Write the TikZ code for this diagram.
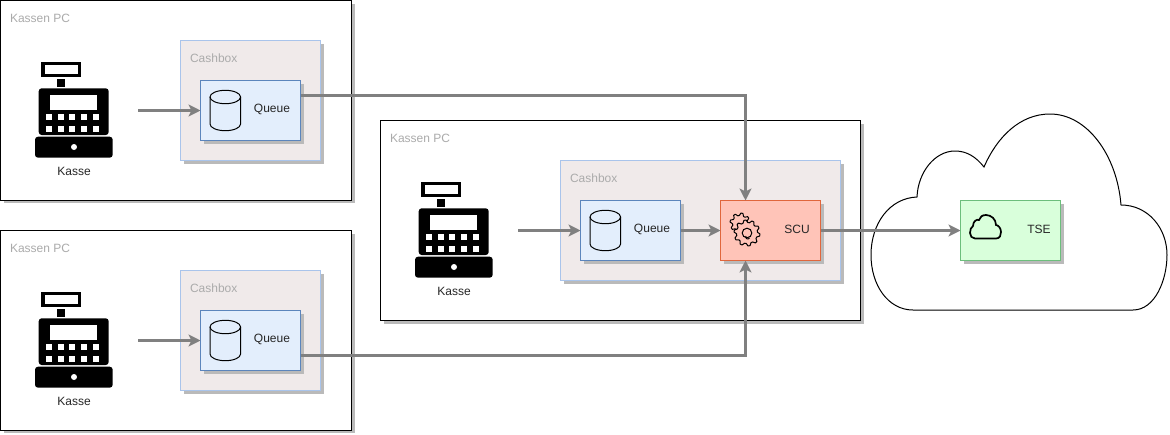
\documentclass[tikz,border=0pt]{standalone}
\usepackage{fontspec}
\setmainfont{Liberation Sans}
\usetikzlibrary{arrows.meta,shadows,calc}
\definecolor{cashfill}{HTML}{F0EAEA}
\definecolor{cashline}{HTML}{A9C4EB}
\definecolor{qfill}{HTML}{E3EEFC}
\definecolor{qline}{HTML}{5B85BC}
\definecolor{scufill}{HTML}{FFC4B8}
\definecolor{sculine}{HTML}{E0663C}
\definecolor{tsefill}{HTML}{D9FFDB}
\definecolor{tseline}{HTML}{6CBE7C}
\definecolor{flowgrey}{HTML}{808080}
\definecolor{softtext}{HTML}{ABABAB}
\tikzset{
  x=1pt,y=-1pt,
  every node/.style={font=\fontsize{12}{14}\selectfont,inner sep=0pt,outer sep=0pt},
  shadowed/.style={drop shadow={shadow xshift=3pt,shadow yshift=-3pt,fill=black!27,opacity=1}},
  box/.style={shadowed,draw,line width=1pt,anchor=north west},
  pcbox/.style={box,draw=black,fill=white,minimum height=199.5pt},
  cashbox/.style={box,draw=cashline,fill=cashfill,minimum height=120pt},
  minibox/.style={box,minimum width=100pt,minimum height=60pt},
  queuebox/.style={minibox,draw=qline,fill=qfill},
  softlabel/.style={text=softtext,anchor=west},
  textlabel/.style={text=black!85},
  flow/.style={draw=flowgrey,line width=2.3pt,-{Stealth[length=12pt,width=12pt,inset=3pt]}},
  iconline/.style={draw=black,line width=1pt},
}
\newcommand{\register}[3]{%
  \begin{scope}[shift={(#2,#3)}]
    \fill[black] (41,62) rectangle (81,77);
    \fill[white] (44.5,65.3) rectangle (77.5,74);
    \fill[black] (57,79) rectangle (64.7,87);
    \fill[black,rounded corners=3pt] (38.7,135) -- (38.7,88.3) -- (108.7,88.3) -- (108.7,135) -- cycle;
    \fill[white] (50.3,95) rectangle (97,110.3);
    \foreach \kx in {49,60.7,72.3,84.3,96}
      \foreach \ky in {117.3,128.7}
        \fill[white] (\kx-3,\ky-3) rectangle (\kx+3,\ky+3);
    \fill[black,rounded corners=3pt] (35,136.7) -- (112.7,136.7) -- (112.7,157.7) -- (35,157.7) -- cycle;
    \fill[white] (74,147) circle (3pt);
    \node[textlabel] (#1kasse) at (74,171) {Kasse};
    \coordinate (#1out) at (138,110.5);
  \end{scope}}
\newcommand{\drum}[2]{%
  \begin{scope}[shift={(#1,#2)}]
    \draw[iconline] (210,97) -- (210,124) arc[start angle=180,end angle=360,x radius=15.3pt,y radius=6.7pt] -- (240.6,97);
    \draw[iconline] (225.3,97) ellipse[x radius=15.3pt,y radius=6.7pt];
  \end{scope}}
\newcommand{\gearshape}[5]{%
  \filldraw[draw=black,line width=1pt,fill=scufill,line join=round]
    plot[variable=\i,samples at={0,1,...,#5}]
    ({#1+(ifthenelse(mod(\i,4)<1.5,#3,#4))*cos((\i+0.5)*(360/#5))},
     {#2+(ifthenelse(mod(\i,4)<1.5,#3,#4))*sin((\i+0.5)*(360/#5))}) -- cycle;}
\begin{document}
\begin{tikzpicture}
\useasboundingbox (0,0) rectangle (1170,434);
% station 1
\node[pcbox,minimum width=351pt] (pcA) at (0.5,0.5) {};
\node[softlabel] (pcAt) at (10,18) {Kassen PC};
\node[cashbox,minimum width=140pt] (cashA) at (180.5,40.5) {};
\node[softlabel] (cashAt) at (190,58) {Cashbox};
\node[queuebox] (queueA) at (200.5,80.5) {};
\node[textlabel] (queueAt) at (272,109.5) {Queue};
\register{a}{0}{0}
\drum{0}{0}
% station 2
\node[pcbox,minimum width=351pt] (pcB) at (0.5,230.5) {};
\node[softlabel] (pcBt) at (10,248) {Kassen PC};
\node[cashbox,minimum width=140pt] (cashB) at (180.5,270.5) {};
\node[softlabel] (cashBt) at (190,288) {Cashbox};
\node[queuebox] (queueB) at (200.5,310.5) {};
\node[textlabel] (queueBt) at (272,339.5) {Queue};
\register{b}{0}{230}
\drum{0}{230}
% station 3
\node[pcbox,minimum width=480pt,minimum height=200pt] (pcC) at (380.5,120.5) {};
\node[softlabel] (pcCt) at (390,138) {Kassen PC};
\node[cashbox,minimum width=280pt] (cashC) at (560.5,160.5) {};
\node[softlabel] (cashCt) at (570,178) {Cashbox};
\node[queuebox] (queueC) at (580.5,200.5) {};
\node[textlabel] (queueCt) at (652,229.5) {Queue};
\register{c}{380}{120}
\drum{380}{120}
\node[minibox,draw=sculine,fill=scufill] (scu) at (720.5,200.5) {};
\node[textlabel] (scut) at (797,229) {SCU};
\gearshape{740}{223}{10}{7.5}{32}
\gearshape{747}{233}{13}{10.5}{40}
\draw[iconline,fill=scufill] (747,233) circle (4.8pt);
\draw[iconline] (746,236) arc[start angle=150,end angle=330,radius=2pt];
% cloud
\draw[draw=black,line width=1pt,fill=white] (913,310) -- (1133,310)
  .. controls (1155,310) and (1167,280) .. (1167,255)
  .. controls (1167,228) and (1148,205) .. (1121,205)
  .. controls (1117,155) and (1087,114) .. (1050,114)
  .. controls (1020,114) and (997,137) .. (984,167)
  .. controls (976,157) and (967,151) .. (955,151)
  .. controls (935,151) and (918,172) .. (917,197)
  .. controls (890,198) and (871,223) .. (871,255)
  .. controls (871,285) and (888,310) .. (913,310) -- cycle;
\node[minibox,draw=tseline,fill=tsefill] (tse) at (960.5,200.5) {};
\node[textlabel] (tset) at (1039,229) {TSE};
\draw[draw=black,line width=1.7pt] (975,238.5) -- (996,238.5)
  .. controls (1000,238.5) and (1001,235) .. (1001,232)
  .. controls (1001,228) and (998,225) .. (996,225)
  .. controls (996,219) and (991,215) .. (986,215)
  .. controls (982,215) and (980,217) .. (979,220)
  .. controls (977,219) and (973,221) .. (973,226)
  .. controls (971,227) and (970,230) .. (970,233)
  .. controls (970,236) and (972,238.5) .. (975,238.5) -- cycle;
% connectors
\draw[flow] (aout) -- (queueA.west);
\draw[flow] (bout) -- (queueB.west);
\draw[flow] (cout) -- (queueC.west);
\draw[flow] (queueC.east) -- (scu.west);
\draw[flow] (scu.east) -- (tse.west);
\draw[flow] ($(queueA.north east)!0.25!(queueA.south east)$) -| ($(scu.north west)!0.25!(scu.north east)$);
\draw[flow] ($(queueB.north east)!0.75!(queueB.south east)$) -| ($(scu.south west)!0.25!(scu.south east)$);
\end{tikzpicture}
\end{document}
